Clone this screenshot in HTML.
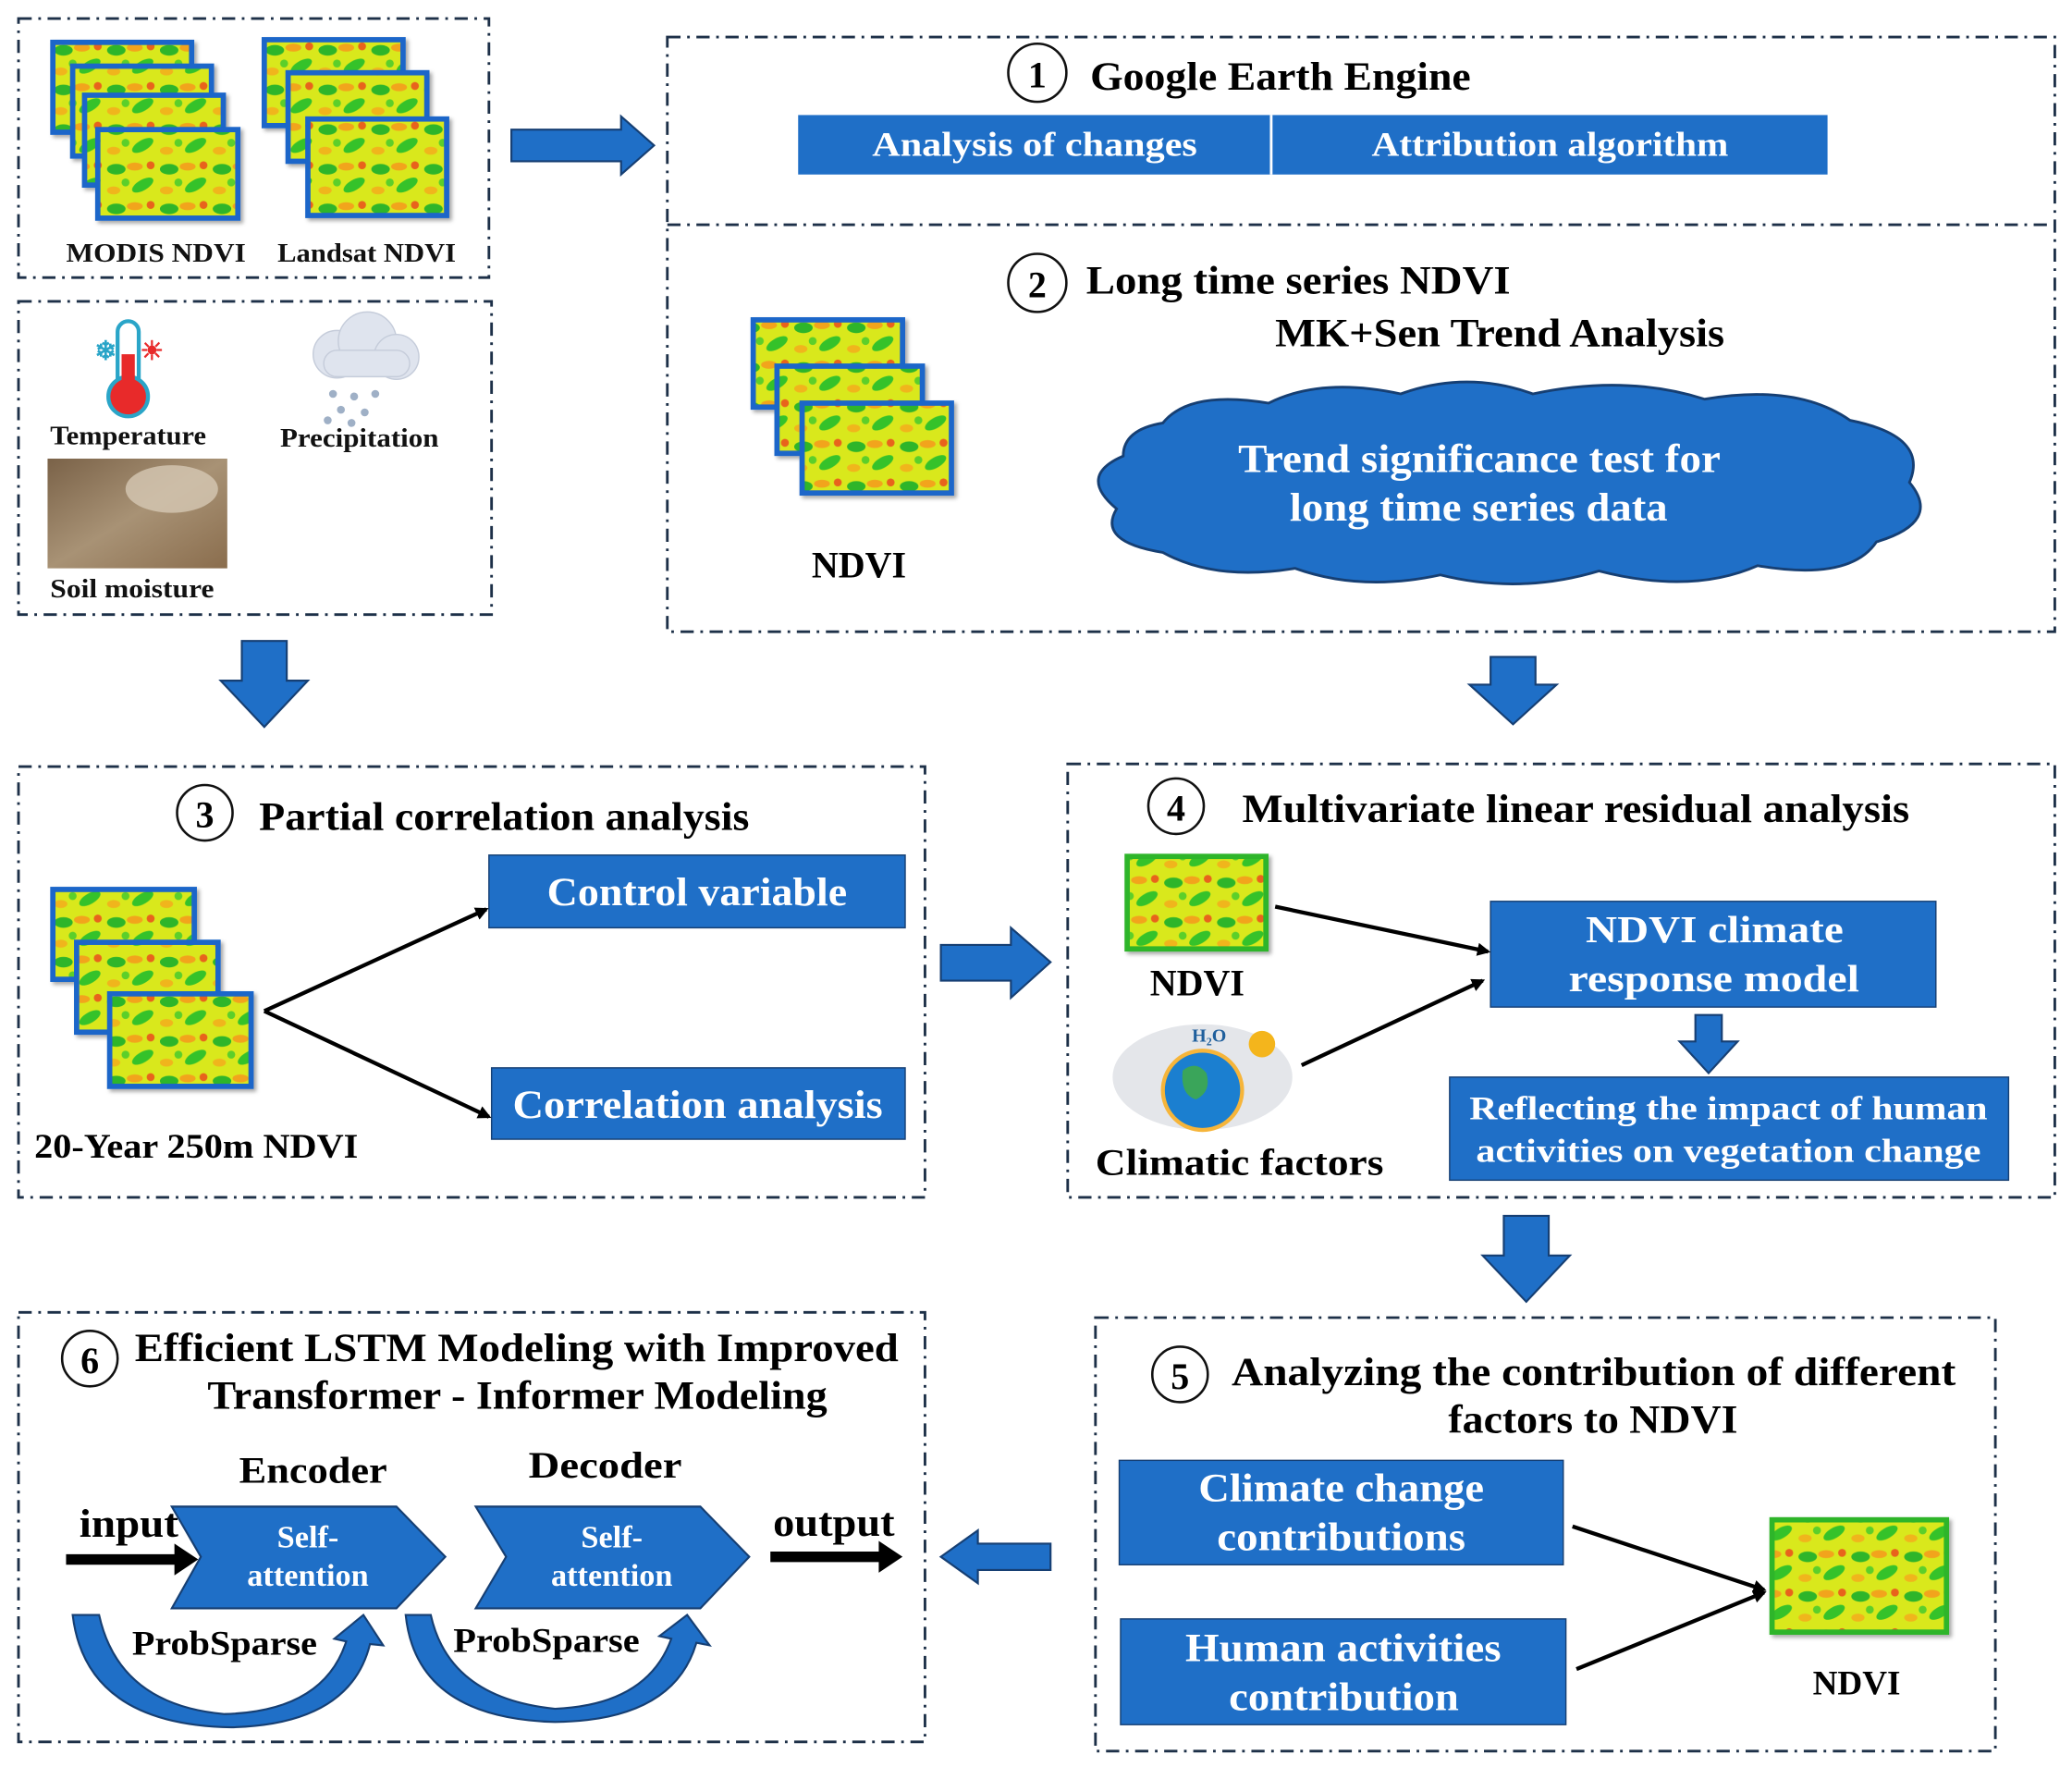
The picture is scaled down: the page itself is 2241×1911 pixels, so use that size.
<!DOCTYPE html>
<html><head><meta charset="utf-8"><style>
html,body{margin:0;padding:0;background:#fff}
svg{display:block}
text{font-family:"Liberation Serif",serif;font-weight:bold}
</style></head><body>
<svg width="2241" height="1911" viewBox="0 0 1568 1337" xmlns="http://www.w3.org/2000/svg">
<defs>
<pattern id="nd" width="40" height="30" patternUnits="userSpaceOnUse">
<rect width="40" height="30" fill="#d9e81a"/>
<ellipse cx="8" cy="8" rx="7" ry="4" fill="#2fb52a"/>
<ellipse cx="28" cy="20" rx="9" ry="4" fill="#36c22c" transform="rotate(-30 28 20)"/>
<ellipse cx="22" cy="6" rx="6" ry="3" fill="#f2a41c"/>
<ellipse cx="6" cy="24" rx="5" ry="3" fill="#f0b51c"/>
<circle cx="34" cy="5" r="3" fill="#e8641a"/>
<circle cx="15" cy="18" r="3" fill="#5ccf2a"/>
</pattern>
<filter id="sh"><feDropShadow dx="2" dy="2" stdDeviation="1.5" flood-opacity="0.35"/></filter>
<marker id="ah" markerWidth="10" markerHeight="10" refX="8" refY="5" orient="auto" markerUnits="userSpaceOnUse"><path d="M0,0 L10,5 L0,10 z" fill="#000"/></marker>
<linearGradient id="soil" x1="0" y1="0" x2="1" y2="1"><stop offset="0" stop-color="#7a6248"/><stop offset="0.5" stop-color="#a89275"/><stop offset="1" stop-color="#8a6d4d"/></linearGradient>
</defs>
<g fill="none" stroke="#1d3048" stroke-width="2" stroke-dasharray="10,5,2,5">
<rect x="14" y="14" width="356" height="196"/>
<rect x="14" y="228" width="358" height="237"/>
<rect x="505" y="28" width="1050" height="450"/>
<line x1="505" y1="170" x2="1555" y2="170"/>
<rect x="14" y="580" width="686" height="326"/>
<rect x="808" y="578" width="747" height="328"/>
<rect x="829" y="997" width="681" height="328"/>
<rect x="14" y="993" width="686" height="325"/>
</g>
<g fill="url(#nd)" stroke="#1a66c9" stroke-width="4" filter="url(#sh)">
<rect x="40" y="32" width="105" height="68"/><rect x="55" y="50" width="105" height="68"/><rect x="64" y="72" width="105" height="68"/><rect x="74" y="98" width="106" height="67"/>
<rect x="200" y="30" width="105" height="65"/><rect x="218" y="55" width="105" height="67"/><rect x="233" y="90" width="105" height="73"/>
<rect x="570" y="242" width="113" height="66"/><rect x="588" y="277" width="110" height="66"/><rect x="607" y="305" width="113" height="68"/>
<rect x="40" y="673" width="107" height="68"/><rect x="58" y="713" width="107" height="68"/><rect x="83" y="752" width="107" height="70"/>
</g>
<g fill="url(#nd)" stroke="#2fb52a" stroke-width="4" filter="url(#sh)">
<rect x="853" y="648" width="105" height="70"/>
<rect x="1341" y="1150" width="132" height="85"/>
</g>
<g font-size="20" fill="#111" lengthAdjust="spacingAndGlyphs">
<text x="50" y="198" textLength="136" lengthAdjust="spacingAndGlyphs">MODIS NDVI</text><text x="210" y="198" textLength="135" lengthAdjust="spacingAndGlyphs">Landsat NDVI</text>
<text x="38" y="336" textLength="118" lengthAdjust="spacingAndGlyphs">Temperature</text><text x="212" y="338" textLength="120" lengthAdjust="spacingAndGlyphs">Precipitation</text><text x="38" y="452" textLength="124" lengthAdjust="spacingAndGlyphs">Soil moisture</text>
</g>
<!-- icons -->
<rect x="89" y="243" width="16" height="60" rx="8" fill="#fff" stroke="#2aa5c8" stroke-width="3"/>
<circle cx="97" cy="300" r="15" fill="#e82a2a" stroke="#2aa5c8" stroke-width="3"/>
<rect x="92" y="268" width="10" height="30" fill="#e82a2a"/>
<text x="80" y="272" font-size="20" fill="#2aa5c8" text-anchor="middle">❄</text>
<text x="115" y="272" font-size="20" fill="#e82a2a" text-anchor="middle">☀</text>
<g fill="#dfe4ee" stroke="#c5ccda"><circle cx="255" cy="268" r="18"/><circle cx="278" cy="258" r="22"/><circle cx="300" cy="270" r="17"/><rect x="245" y="265" width="65" height="20" rx="10"/></g>
<g fill="#9fb0c6"><circle cx="252" cy="298" r="3"/><circle cx="268" cy="300" r="3"/><circle cx="284" cy="298" r="3"/><circle cx="258" cy="310" r="3"/><circle cx="276" cy="312" r="3"/><circle cx="248" cy="318" r="3"/><circle cx="266" cy="320" r="3"/></g>
<rect x="36" y="347" width="136" height="83" fill="url(#soil)"/>
<ellipse cx="130" cy="370" rx="35" ry="18" fill="#d6c8b4" opacity="0.8"/>
<!-- arrows big -->
<g fill="#1f6fc7" stroke="#163f73" stroke-width="1.5">
<path d="M387,98 H470 V88 L495,110 L470,132 V122 H387 Z"/>
<path d="M183,485 H217 V515 H233 L200,550 L167,515 H183 Z"/>
<path d="M1128,497 H1162 V518 H1178 L1145,548 L1112,518 H1128 Z"/>
<path d="M712,715 H765 V702 L795,728 L765,755 V742 H712 Z"/>
<path d="M1138,920 H1172 V950 H1188 L1155,985 L1122,950 H1138 Z"/>
<path d="M795,1168 H740 V1158 L712,1178 L740,1198 V1188 H795 Z"/>
<path d="M1283,768 H1303 V788 H1315 L1293,812 L1271,788 H1283 Z"/>
</g>
<!-- section 1 -->
<circle cx="785" cy="55" r="22" fill="none" stroke="#111" stroke-width="1.8"/>
<text x="785" y="66" font-size="28" text-anchor="middle" font-weight="normal">1</text>
<text x="825" y="68" font-size="30" textLength="288" lengthAdjust="spacingAndGlyphs">Google Earth Engine</text>
<rect x="604" y="87" width="779" height="45" fill="#1f6fc7"/>
<line x1="962" y1="87" x2="962" y2="132" stroke="#fff" stroke-width="2"/>
<g fill="#fff" font-size="26"><text x="660" y="118" textLength="246" lengthAdjust="spacingAndGlyphs">Analysis of changes</text><text x="1038" y="118" textLength="270" lengthAdjust="spacingAndGlyphs">Attribution algorithm</text></g>
<!-- section 2 -->
<circle cx="785" cy="214" r="22" fill="none" stroke="#111" stroke-width="1.8"/>
<text x="785" y="225" font-size="28" text-anchor="middle" font-weight="normal">2</text>
<text x="822" y="222" font-size="30" textLength="321" lengthAdjust="spacingAndGlyphs">Long time series NDVI</text>
<text x="965" y="262" font-size="30" textLength="340" lengthAdjust="spacingAndGlyphs">MK+Sen Trend Analysis</text>
<text x="650" y="437" font-size="28" text-anchor="middle">NDVI</text>
<g fill="#1f6fc7" stroke="#163f73" stroke-width="2">
<path d="M880,320 Q900,295 960,305 Q1000,285 1060,298 Q1110,280 1160,298 Q1230,283 1290,302 Q1360,290 1400,318 Q1460,330 1445,365 Q1470,395 1420,410 Q1400,440 1330,428 Q1280,450 1210,432 Q1150,450 1090,435 Q1030,448 980,430 Q920,440 880,418 Q830,410 845,385 Q815,360 850,345 Q850,325 880,320 Z"/>
</g>
<g fill="#fff" font-size="30"><text x="937" y="357" textLength="365" lengthAdjust="spacingAndGlyphs">Trend significance test for</text><text x="976" y="394" textLength="286" lengthAdjust="spacingAndGlyphs">long time series data</text></g>
<!-- section 3 -->
<circle cx="155" cy="615" r="21" fill="none" stroke="#111" stroke-width="1.8"/>
<text x="155" y="626" font-size="28" text-anchor="middle" font-weight="normal">3</text>
<text x="196" y="628" font-size="30" textLength="371" lengthAdjust="spacingAndGlyphs">Partial correlation analysis</text>
<text x="26" y="876" font-size="26" textLength="245" lengthAdjust="spacingAndGlyphs">20-Year 250m NDVI</text>
<rect x="370" y="647" width="315" height="55" fill="#1f6fc7" stroke="#163f73"/>
<rect x="372" y="808" width="313" height="54" fill="#1f6fc7" stroke="#163f73"/>
<g fill="#fff" font-size="30"><text x="414" y="685" textLength="227" lengthAdjust="spacingAndGlyphs">Control variable</text><text x="388" y="846" textLength="280" lengthAdjust="spacingAndGlyphs">Correlation analysis</text></g>
<g stroke="#000" stroke-width="3" marker-end="url(#ah)"><line x1="200" y1="765" x2="368" y2="688"/><line x1="200" y1="765" x2="370" y2="845"/></g>
<!-- section 4 -->
<circle cx="890" cy="610" r="21" fill="none" stroke="#111" stroke-width="1.8"/>
<text x="890" y="621" font-size="28" text-anchor="middle" font-weight="normal">4</text>
<text x="940" y="622" font-size="30" textLength="505" lengthAdjust="spacingAndGlyphs">Multivariate linear residual analysis</text>
<text x="906" y="753" font-size="28" text-anchor="middle">NDVI</text>
<text x="829" y="889" font-size="28" textLength="218" lengthAdjust="spacingAndGlyphs">Climatic factors</text>
<ellipse cx="910" cy="815" rx="68" ry="40" fill="#e4e6ea"/>
<circle cx="910" cy="825" r="30" fill="#1b7fd0" stroke="#f6b53a" stroke-width="3"/>
<path d="M895,810 q10,-8 18,2 q4,14 -8,20 q-12,-4 -10,-22z" fill="#3aa55a"/>
<circle cx="955" cy="790" r="10" fill="#f4b51c"/>
<text x="915" y="788" font-size="14" fill="#1f5f9c" text-anchor="middle">H₂O</text>
<rect x="1128" y="682" width="337" height="80" fill="#1f6fc7" stroke="#163f73"/>
<g fill="#fff" font-size="29"><text x="1200" y="713" textLength="195" lengthAdjust="spacingAndGlyphs">NDVI climate</text><text x="1187" y="750" textLength="220" lengthAdjust="spacingAndGlyphs">response model</text></g>
<g stroke="#000" stroke-width="3" marker-end="url(#ah)"><line x1="965" y1="686" x2="1126" y2="720"/><line x1="985" y1="806" x2="1122" y2="742"/></g>
<rect x="1097" y="815" width="423" height="78" fill="#1f6fc7" stroke="#163f73"/>
<g fill="#fff" font-size="25"><text x="1112" y="847" textLength="392" lengthAdjust="spacingAndGlyphs">Reflecting the impact of human</text><text x="1117" y="879" textLength="382" lengthAdjust="spacingAndGlyphs">activities on vegetation change</text></g>
<!-- section 5 -->
<circle cx="893" cy="1040" r="21" fill="none" stroke="#111" stroke-width="1.8"/>
<text x="893" y="1051" font-size="28" text-anchor="middle" font-weight="normal">5</text>
<text x="932" y="1048" font-size="30" textLength="548" lengthAdjust="spacingAndGlyphs">Analyzing the contribution of different</text>
<text x="1096" y="1084" font-size="30" textLength="219" lengthAdjust="spacingAndGlyphs">factors to NDVI</text>
<rect x="847" y="1105" width="336" height="79" fill="#1f6fc7" stroke="#163f73"/>
<rect x="848" y="1225" width="337" height="80" fill="#1f6fc7" stroke="#163f73"/>
<g fill="#fff" font-size="30"><text x="907" y="1136" textLength="216" lengthAdjust="spacingAndGlyphs">Climate change</text><text x="921" y="1173" textLength="188" lengthAdjust="spacingAndGlyphs">contributions</text><text x="897" y="1257" textLength="239" lengthAdjust="spacingAndGlyphs">Human activities</text><text x="930" y="1294" textLength="174" lengthAdjust="spacingAndGlyphs">contribution</text></g>
<g stroke="#000" stroke-width="3" marker-end="url(#ah)"><line x1="1190" y1="1155" x2="1335" y2="1203"/><line x1="1193" y1="1263" x2="1335" y2="1205"/></g>
<text x="1405" y="1282" font-size="26" text-anchor="middle">NDVI</text>
<!-- section 6 -->
<circle cx="68" cy="1028" r="21" fill="none" stroke="#111" stroke-width="1.8"/>
<text x="68" y="1039" font-size="28" text-anchor="middle" font-weight="normal">6</text>
<text x="102" y="1030" font-size="30" textLength="578" lengthAdjust="spacingAndGlyphs">Efficient LSTM Modeling with Improved</text>
<text x="157" y="1066" font-size="30" textLength="469" lengthAdjust="spacingAndGlyphs">Transformer - Informer Modeling</text>
<text x="181" y="1122" font-size="28" textLength="112" lengthAdjust="spacingAndGlyphs">Encoder</text>
<text x="400" y="1118" font-size="28" textLength="116" lengthAdjust="spacingAndGlyphs">Decoder</text>
<g fill="#1f6fc7" stroke="#163f73" stroke-width="1.5">
<path d="M130,1140 H300 L337,1178 L300,1217 H130 L152,1178 Z"/>
<path d="M360,1140 H530 L567,1178 L530,1217 H360 L383,1178 Z"/>
<path d="M55,1222 H75 Q90,1290 170,1297 Q245,1295 262,1242 L253,1240 L275,1222 L290,1245 L280,1244 Q265,1305 175,1307 Q65,1305 55,1222 Z"/>
<path d="M307,1222 H326 Q340,1285 420,1293 Q490,1290 508,1240 L499,1238 L520,1222 L537,1245 L527,1243 Q510,1302 420,1303 Q315,1300 307,1222 Z"/>
</g>
<g fill="#fff" font-size="24" text-anchor="middle" font-weight="normal"><text x="233" y="1171">Self-</text><text x="233" y="1200">attention</text><text x="463" y="1171">Self-</text><text x="463" y="1200">attention</text></g>
<text x="60" y="1163" font-size="30" textLength="75" lengthAdjust="spacingAndGlyphs">input</text>
<text x="585" y="1162" font-size="30" textLength="92" lengthAdjust="spacingAndGlyphs">output</text>
<g fill="#000"><path d="M50,1176 H132 V1168 L150,1180 L132,1192 V1184 H50 Z"/><path d="M583,1174 H665 V1166 L683,1178 L665,1190 V1182 H583 Z"/></g>
<text x="100" y="1252" font-size="26" textLength="140" lengthAdjust="spacingAndGlyphs">ProbSparse</text>
<text x="343" y="1250" font-size="26" textLength="141" lengthAdjust="spacingAndGlyphs">ProbSparse</text>
</svg>
</body></html>
